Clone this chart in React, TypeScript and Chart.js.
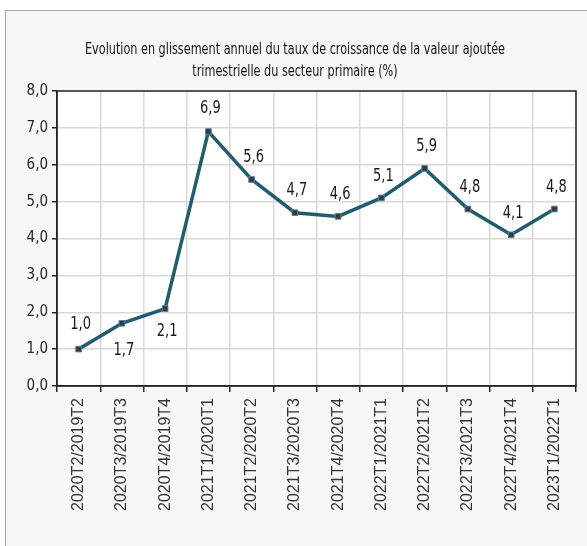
import React, { useEffect, useRef } from "react";
import { Chart, registerables } from "chart.js";

Chart.register(...registerables);

const categories = [
  "2020T2/2019T2", "2020T3/2019T3", "2020T4/2019T4", "2021T1/2020T1",
  "2021T2/2020T2", "2021T3/2020T3", "2021T4/2020T4", "2022T1/2021T1",
  "2022T2/2021T2", "2022T3/2021T3", "2022T4/2021T4", "2023T1/2022T1",
];
const values = [1.0, 1.7, 2.1, 6.9, 5.6, 4.7, 4.6, 5.1, 5.9, 4.8, 4.1, 4.8];
const titleLines = [
  "Evolution en glissement annuel du taux de croissance de la valeur ajoutée",
  "trimestrielle du secteur primaire (%)",
];

// label vertical offsets (px) relative to the point: negative = above
const labelOffsets = [-25, 27, 23, -23, -22, -22, -22, -22, -22, -22, -22, -22];

const condensed = "'Liberation Sans Narrow', 'DejaVu Sans Condensed', 'Noto Sans', sans-serif";

const fmt = (v: number) => v.toFixed(1).replace(".", ",");

const stretchText = (ctx: any, text: string, x: number, y: number, sy: number) => {
  ctx.save();
  ctx.translate(x, y);
  ctx.scale(1, sy);
  ctx.fillText(text, 0, 0);
  ctx.restore();
};

const areaPlugin = {
  id: "areaPlugin",
  beforeDraw(chart: any) {
    const { ctx, chartArea } = chart;
    ctx.save();
    ctx.fillStyle = "#ffffff";
    ctx.fillRect(chartArea.left, chartArea.top, chartArea.right - chartArea.left, chartArea.bottom - chartArea.top);
    ctx.fillStyle = "#111111";
    ctx.font = `12.5px ${condensed}`;
    ctx.textAlign = "center";
    ctx.textBaseline = "middle";
    stretchText(ctx, titleLines[0], 295, 50, 1.25);
    stretchText(ctx, titleLines[1], 295, 72, 1.25);
    ctx.restore();
  },
  afterDatasetsDraw(chart: any) {
    const { ctx, chartArea } = chart;
    ctx.save();
    ctx.strokeStyle = "#262626";
    ctx.lineWidth = 1.5;
    ctx.strokeRect(chartArea.left, chartArea.top, chartArea.right - chartArea.left, chartArea.bottom - chartArea.top);
    const meta = chart.getDatasetMeta(0);
    ctx.fillStyle = "#1a1a1a";
    ctx.font = `14.5px ${condensed}`;
    ctx.textAlign = "center";
    ctx.textBaseline = "middle";
    meta.data.forEach((pt: any, i: number) => {
      stretchText(ctx, fmt(values[i]), pt.x + 2, pt.y + labelOffsets[i], 1.25);
    });
    ctx.restore();
  },
};

export default function App() {
  const ref = useRef<HTMLCanvasElement | null>(null);
  useEffect(() => {
    if (!ref.current) return;
    const chart = new Chart(ref.current, {
      type: "line",
      data: {
        labels: categories,
        datasets: [
          {
            data: values,
            borderColor: "#215d6c",
            borderWidth: 3.5,
            pointStyle: "rect",
            pointRadius: 4,
            pointBackgroundColor: "#3d3a2a",
            pointBorderColor: "#4f81bd",
            pointBorderWidth: 1,
            tension: 0,
          },
        ],
      },
      options: {
        animation: false,
        responsive: false,
        layout: { padding: { left: 0, right: 11, top: 91, bottom: 0 } },
        plugins: {
          legend: { display: false },
          tooltip: { enabled: false },
          title: { display: false },
        },
        scales: {
          x: {
            offset: true,
            afterFit: (s: any) => {
              s.height = 160;
            },
            grid: {
              offset: true,
              color: "#d9d9d9",
              lineWidth: 1.5,
              drawTicks: true,
              tickLength: 6,
              tickColor: "#262626",
            },
            border: { display: true, color: "#262626", width: 1.5 },
            ticks: {
              maxRotation: 90,
              minRotation: 90,
              autoSkip: false,
              color: "#333333",
              font: { family: "'Liberation Sans', Arial, sans-serif", size: 16 },
              padding: 6,
            },
          },
          y: {
            min: 0,
            max: 8,
            afterFit: (s: any) => {
              s.width = 57;
            },
            grid: {
              color: "#d9d9d9",
              lineWidth: 1.5,
              tickLength: 5,
              tickColor: "#262626",
            },
            border: { display: true, color: "#262626", width: 1.5 },
            ticks: {
              stepSize: 1,
              color: "#262626",
              font: { family: condensed, size: 15 },
              padding: 4,
              callback: (v: any) => fmt(Number(v)),
            },
          },
        },
      },
      plugins: [areaPlugin],
    });
    return () => chart.destroy();
  }, []);

  return (
    <div style={{ position: "fixed", left: 0, top: 0, width: 587, height: 546, background: "#ffffff" }}>
      <div
        style={{
          position: "absolute",
          left: 5,
          top: 10,
          width: 600,
          height: 560,
          background: "#f6f7f9",
          border: "1px solid #a6a6a6",
        }}
      />
      <canvas ref={ref} width={587} height={546} style={{ position: "absolute", left: 0, top: 0 }} />
    </div>
  );
}
